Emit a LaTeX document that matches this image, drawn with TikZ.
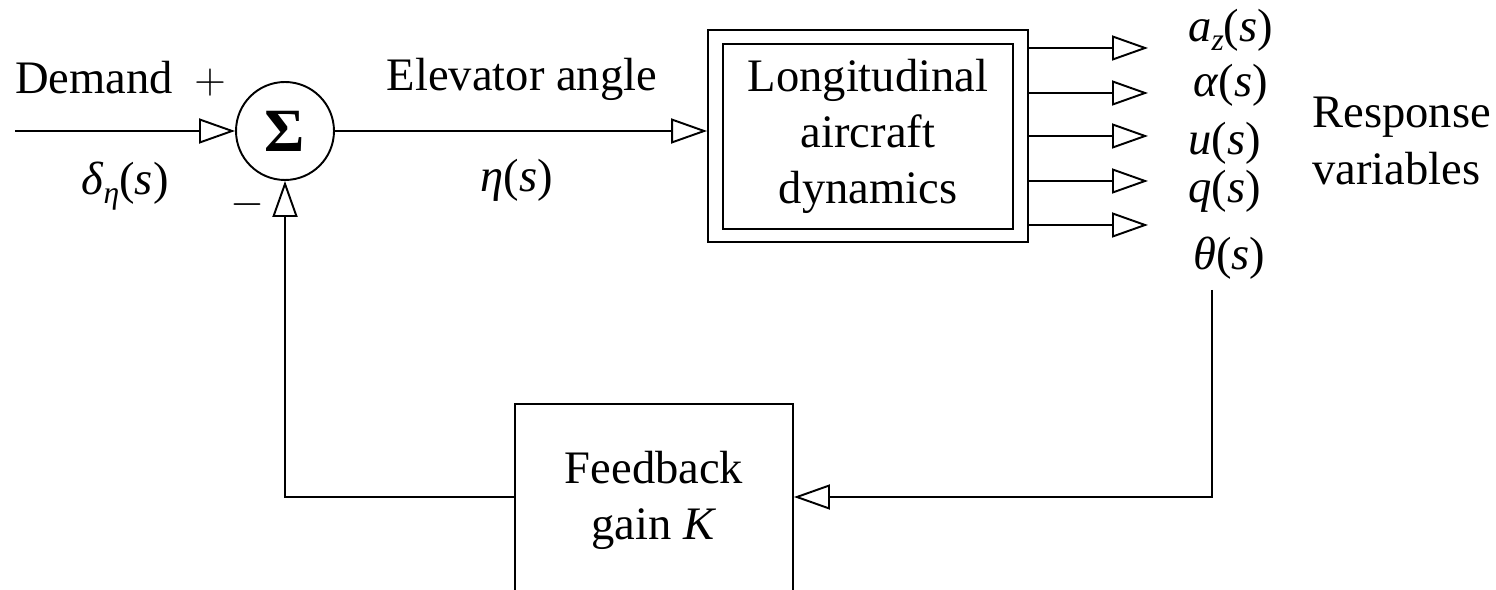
\documentclass[tikz,border=0pt]{standalone}
\usepackage{fontspec}
\setmainfont{Liberation Serif}
\usetikzlibrary{arrows.meta,positioning}

\tikzset{
  block/.style={draw, line width=1.1pt, align=center, inner sep=0pt},
  sumnode/.style={draw, circle, line width=1.1pt, minimum size=1.96cm, inner sep=0pt},
  lbl/.style={inner sep=0pt},
  sig/.style={line width=1.1pt, -{Triangle[open,length=0.72cm,width=0.5cm]}},
}
\newcommand{\svar}[1]{\textit{#1}(\textit{s})}

\begin{document}
\begin{tikzpicture}[x=0.02cm,y=-0.02cm,font=\fontsize{26.5}{32}\selectfont]
  \useasboundingbox (0,0) rectangle (1496,590);
  \clip (0,0) rectangle (1496,590);

  % summing junction and input
  \node[sumnode, font=\fontsize{35}{40}\selectfont\bfseries] (sum) at (285,131) {Σ};
  \coordinate (in) at (15,131);
  \draw[sig] (in) -- (sum.west);
  \node[lbl, anchor=base west] (demand) at (15,94) {Demand};
  \node[lbl, anchor=base] (plus) at (210,94) {$+$};
  \node[lbl, anchor=base] (dlt) at (125,195) {\textit{δ}\raisebox{-0.4ex}{\fontsize{18}{20}\selectfont\textit{η}}(\textit{s})};
  \node[lbl] (minus) at (247,205) {$-$};

  % aircraft dynamics
  \node[block, minimum width=5.8cm, minimum height=3.7cm] (dyn) at (868,136.5)
    {Longitudinal\\aircraft\\dynamics};
  \node[block, minimum width=6.4cm, minimum height=4.24cm] (dynout) at (868,136) {};
  \draw[sig] (sum.east) -- (sum.east -| dynout.west);
  \node[lbl, anchor=base] (elev) at (522,91) {Elevator angle};
  \node[lbl, anchor=base] (eta) at (517,192) {\svar{η}};

  % response variables
  \foreach \y/\n in {48/az,93/al,136/u,181/q,225/th}{
    \coordinate (o\n) at (1148,\y);
    \draw[sig] (dynout.east |- o\n) -- (o\n);
  }
  \node[lbl, anchor=base west] (az) at (1188,42) {\textit{a}\raisebox{-0.4ex}{\fontsize{18}{20}\selectfont\textit{z}}(\textit{s})};
  \node[lbl, anchor=base west] (al) at (1193,97) {\svar{α}};
  \node[lbl, anchor=base west] (u) at (1188,155) {\svar{u}};
  \node[lbl, anchor=base west] (q) at (1188,203) {\svar{q}};
  \node[lbl, anchor=base west] (th) at (1193,270) {\svar{θ}};
  \node[lbl, anchor=west, align=left] (resp) at (1312,141) {Response\\variables};

  % feedback loop
  \node[block, minimum width=5.56cm, minimum height=3.84cm] (fb) at (654,500) {Feedback\\gain \textit{K}};
  \coordinate (tap) at (1212,290);
  \draw[sig] (tap) |- (fb.east |- 0,497);
  \draw[sig] (fb.west |- 0,497) -| (sum.south);
\end{tikzpicture}
\end{document}
